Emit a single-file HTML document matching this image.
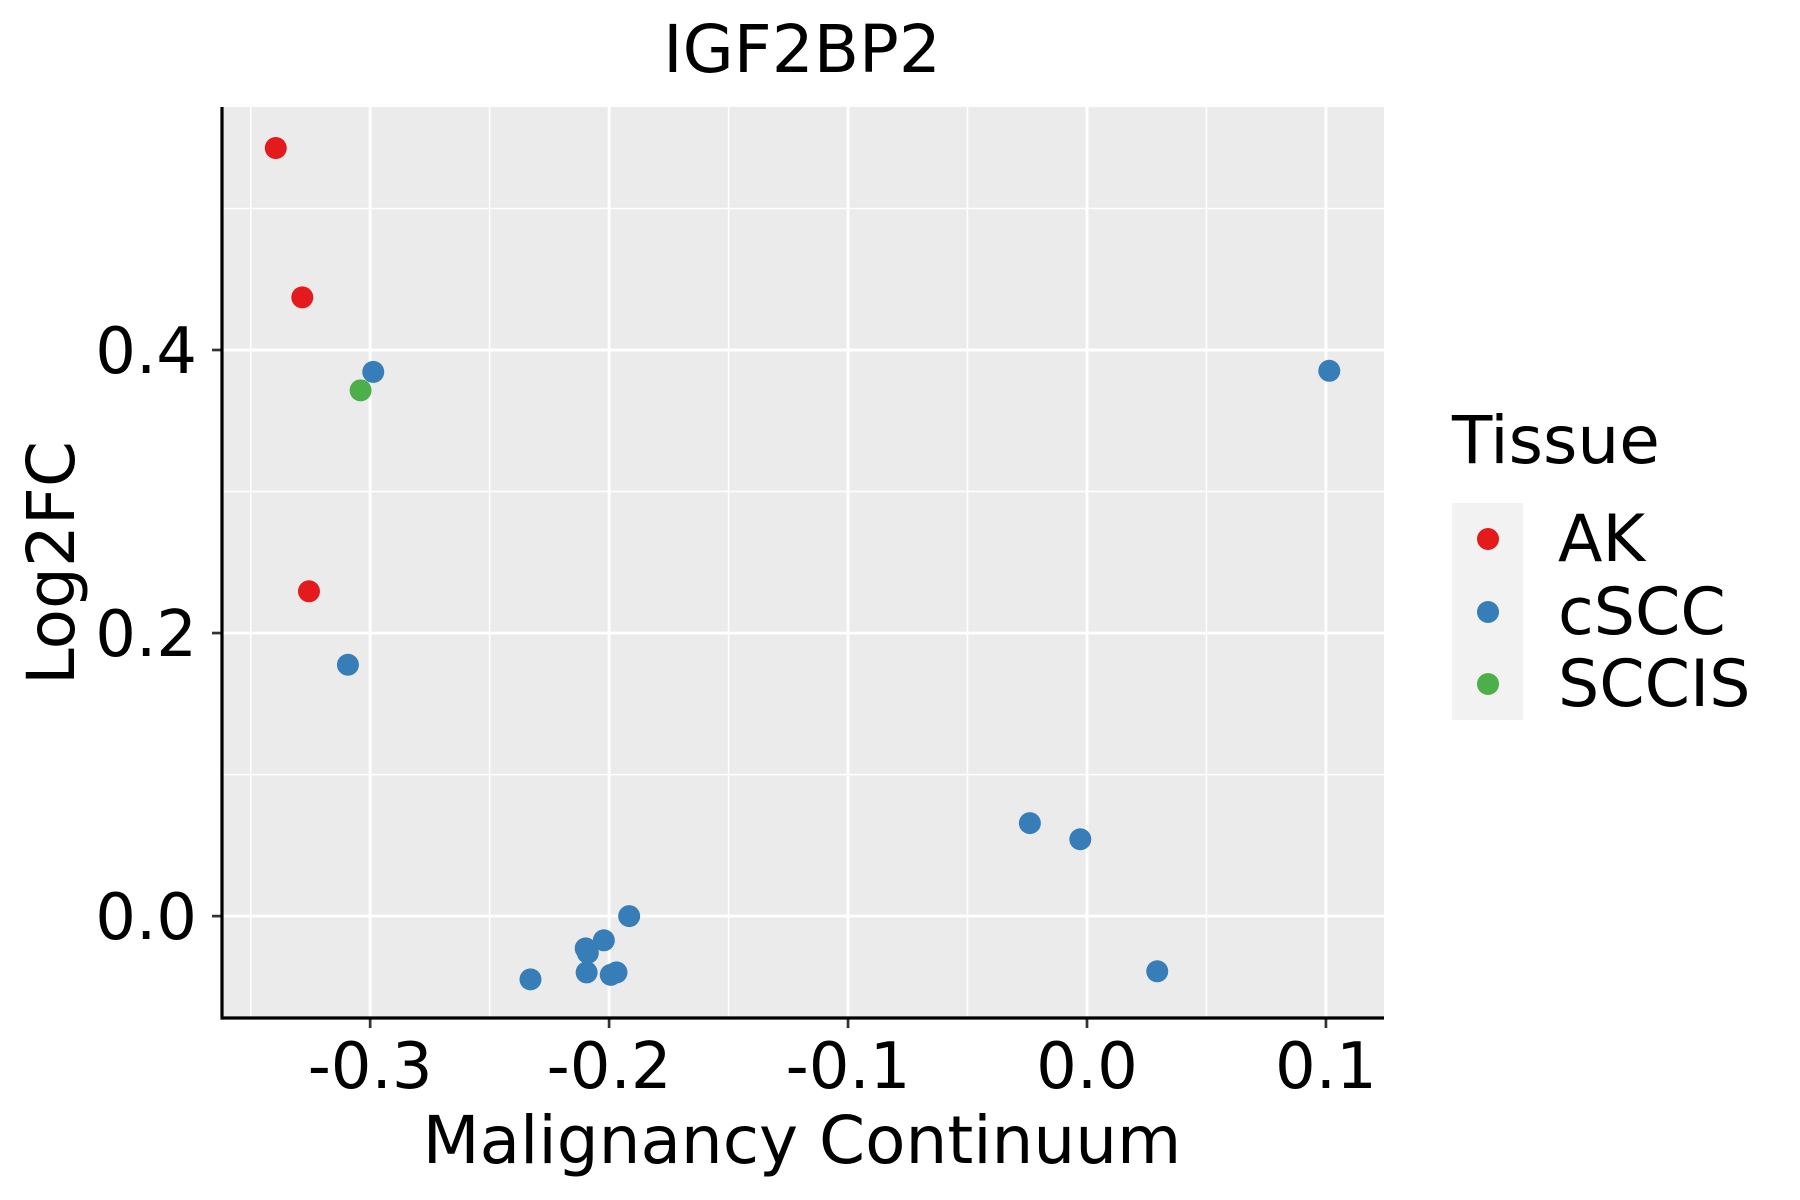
<!DOCTYPE html>
<html><head><meta charset="utf-8"><style>
html,body{margin:0;padding:0;background:#fff;}
svg{display:block;font-family:"DejaVu Sans","Liberation Sans",sans-serif;}
</style></head><body>
<svg id="chart" width="1800" height="1200" viewBox="0 0 1800 1200">
<text x="802" y="72" font-size="66" text-anchor="middle">IGF2BP2</text>
<g id="plot"></g>
<text x="802" y="1163" font-size="66" text-anchor="middle">Malignancy Continuum</text>
<text transform="translate(74,563) rotate(-90)" font-size="66" text-anchor="middle">Log2FC</text>
<g>
<text x="1452" y="463" font-size="66">Tissue</text>
<rect x="1452" y="503" width="71" height="217" fill="#F2F2F2"/>
<circle cx="1488" cy="539" r="11" fill="#E41A1C"/>
<text x="1558" y="561" font-size="65">AK</text>
<circle cx="1488" cy="612" r="11" fill="#377EB8"/>
<text x="1558" y="634" font-size="65">cSCC</text>
<circle cx="1488" cy="684" r="11" fill="#4DAF4A"/>
<text x="1558" y="706" font-size="65">SCCIS</text>
</g>
</svg>
<script>
const xValues = [-0.3395,-0.3284,-0.3256,-0.304,-0.2987,-0.3093,0.1014,-0.0239,-0.0028,0.0294,-0.1916,-0.2022,-0.2098,-0.2089,-0.2094,-0.1993,-0.1969,-0.2329];
const yValues = [0.5427,0.4372,0.2295,0.3715,0.3845,0.1776,0.3853,0.0657,0.0543,-0.039,0,-0.0171,-0.0228,-0.026,-0.0398,-0.0415,-0.0398,-0.0447];
const tissues = ["AK","AK","AK","SCCIS","cSCC","cSCC","cSCC","cSCC","cSCC","cSCC","cSCC","cSCC","cSCC","cSCC","cSCC","cSCC","cSCC","cSCC"];
const xTicks = [-0.3,-0.2,-0.1,0.0,0.1];
const xTickLabels = ["-0.3","-0.2","-0.1","0.0","0.1"];
const yTicks = [0.0,0.2,0.4];
const yTickLabels = ["0.0","0.2","0.4"];
const xMinor = [-0.35,-0.25,-0.15,-0.05,0.05];
const yMinor = [0.1,0.3,0.5];

const colors = {AK:"#E41A1C", cSCC:"#377EB8", SCCIS:"#4DAF4A"};
const P = {l:222, r:1384, t:107, b:1018};
const xDom = [-0.362, 0.1243], yDom = [-0.072, 0.5717];
function sx(v){return P.l + (v - xDom[0])/(xDom[1]-xDom[0])*(P.r-P.l);}
function sy(v){return P.b - (v - yDom[0])/(yDom[1]-yDom[0])*(P.b-P.t);}
const NS="http://www.w3.org/2000/svg";
const g=document.getElementById('plot');
function mk(tag,attrs){const e=document.createElementNS(NS,tag);for(const k in attrs)e.setAttribute(k,attrs[k]);g.appendChild(e);return e;}

const bg=mk('rect',{x:P.l,y:P.t,width:P.r-P.l,height:P.b-P.t,fill:'#EBEBEB'});


xMinor.forEach(v=>{const e=mk('line',{x1:sx(v),x2:sx(v),y1:P.t,y2:P.b,stroke:'#fff','stroke-width':1.5});

});
yMinor.forEach(v=>{const e=mk('line',{x1:P.l,x2:P.r,y1:sy(v),y2:sy(v),stroke:'#fff','stroke-width':1.5});

});
xTicks.forEach((v,i)=>{
const e=mk('line',{x1:sx(v),x2:sx(v),y1:P.t,y2:P.b,stroke:'#fff','stroke-width':2.9});


const t=mk('line',{x1:sx(v),x2:sx(v),y1:P.b,y2:P.b+10,stroke:'#333','stroke-width':2.7});


const l=mk('text',{x:sx(v),y:1088,'font-size':64,'text-anchor':'middle',fill:'#000'});
l.textContent=xTickLabels[i];


});
yTicks.forEach((v,i)=>{
const e=mk('line',{x1:P.l,x2:P.r,y1:sy(v),y2:sy(v),stroke:'#fff','stroke-width':2.9});


const t=mk('line',{x1:P.l-10,x2:P.l,y1:sy(v),y2:sy(v),stroke:'#333','stroke-width':2.7});


const l=mk('text',{x:P.l-25,y:sy(v)+23,'font-size':64,'text-anchor':'end',fill:'#000'});
l.textContent=yTickLabels[i];


});
const ax=mk('line',{x1:P.l,x2:P.r,y1:P.b,y2:P.b,stroke:'#000','stroke-width':3.2});


const ay=mk('line',{x1:P.l,x2:P.l,y1:P.t,y2:P.b+1.6,stroke:'#000','stroke-width':3.2});


xValues.forEach((v,i)=>{
const c=mk('circle',{cx:sx(v),cy:sy(yValues[i]),r:11,fill:colors[tissues[i]]});


});
</script>
</body></html>
